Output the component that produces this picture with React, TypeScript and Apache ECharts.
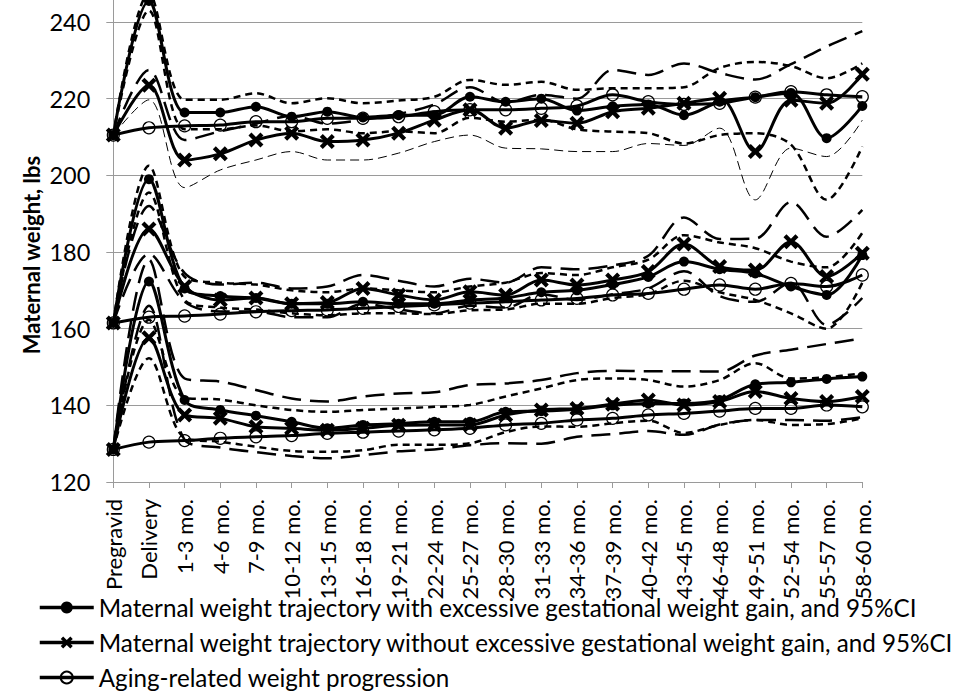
import React, { useEffect, useRef } from "react";
import * as echarts from "echarts";

const categories = [
  "Pregravid", "Delivery", "1-3 mo.", "4-6 mo.", "7-9 mo.", "10-12 mo.", "13-15 mo.", "16-18 mo.",
  "19-21 mo.", "22-24 mo.", "25-27 mo.", "28-30 mo.", "31-33 mo.", "34-36 mo.", "37-39 mo.",
  "40-42 mo.", "43-45 mo.", "46-48 mo.", "49-51 mo.", "52-54 mo.", "55-57 mo.", "58-60 mo.",
];

const yTicks = [120, 140, 160, 180, 200, 220, 240];
const yTop = 245.74;

const NAME_EXC = "Maternal weight trajectory with excessive gestational weight gain, and 95%CI";
const NAME_NOEXC = "Maternal weight trajectory without excessive gestational weight gain, and 95%CI";
const NAME_AGE = "Aging-related weight progression";

// Upper group
const upperExc = [210.5, 245.5, 216.4, 216.4, 217.9, 215.3, 216.6, 215.1, 215.7, 215.7, 220.5, 219.2, 220.0, 216.9, 218.0, 218.5, 215.7, 219.2, 220.4, 221.5, 209.7, 218.1];
const upperExcHi = [210.5, 247.5, 219.7, 219.7, 221.4, 218.8, 220.1, 218.8, 219.5, 220.5, 224.9, 223.6, 224.4, 222.3, 222.7, 222.7, 223.0, 228.0, 229.6, 228.5, 225.3, 229.2];
const upperExcLo = [210.5, 243.0, 212.0, 212.0, 213.0, 211.5, 212.0, 211.0, 211.5, 211.0, 215.0, 214.0, 214.5, 212.0, 211.4, 211.0, 208.3, 210.5, 211.0, 208.0, 193.6, 207.5];
const upperNoExc = [210.5, 223.5, 204.0, 205.6, 209.2, 211.0, 208.8, 209.2, 211.0, 214.4, 217.1, 212.3, 214.3, 213.6, 216.6, 217.5, 218.8, 220.1, 206.2, 219.6, 218.8, 226.4];
const upperNoExcHi = [210.5, 227.5, 209.2, 211.5, 213.5, 215.5, 213.5, 214.5, 216.0, 218.5, 223.0, 219.0, 221.0, 220.0, 227.5, 226.2, 229.2, 226.7, 225.0, 229.0, 233.6, 237.6];
const upperNoExcLo = [210.5, 219.7, 196.8, 201.4, 204.0, 206.2, 204.0, 204.0, 205.8, 208.8, 210.5, 207.1, 206.9, 206.2, 206.2, 208.3, 207.8, 212.3, 193.6, 207.1, 204.9, 214.4];
const upperAge = [210.5, 212.4, 212.9, 213.1, 214.0, 214.0, 214.9, 214.9, 215.3, 216.6, 217.1, 217.1, 217.5, 218.1, 221.0, 219.2, 218.5, 218.8, 220.4, 221.8, 221.0, 220.5];

// Middle group
const midExc = [161.5, 199.0, 170.5, 168.5, 168.0, 166.5, 166.5, 167.0, 166.5, 166.5, 167.5, 168.0, 169.5, 170.0, 171.5, 173.5, 177.5, 175.5, 174.4, 171.0, 168.8, 179.2];
const midExcHi = [161.5, 202.5, 173.5, 172.0, 171.5, 170.0, 169.5, 170.5, 170.0, 169.5, 171.0, 172.0, 174.5, 174.0, 176.0, 178.0, 184.4, 182.5, 181.0, 177.5, 176.0, 185.0];
const midExcLo = [161.5, 195.5, 167.5, 165.5, 165.0, 164.0, 163.5, 164.0, 164.0, 163.8, 164.8, 165.0, 166.5, 166.5, 168.0, 169.0, 172.5, 169.5, 167.5, 164.0, 160.0, 172.0];
const midNoExc = [161.5, 186.0, 171.0, 167.5, 168.0, 166.5, 166.8, 170.5, 168.8, 167.5, 169.6, 168.8, 172.7, 171.4, 172.7, 174.9, 182.1, 176.2, 175.3, 182.7, 173.6, 179.7];
const midNoExcHi = [161.5, 192.0, 174.5, 171.5, 172.0, 170.5, 171.0, 174.0, 172.5, 171.0, 173.0, 172.0, 176.0, 175.5, 176.5, 179.0, 189.0, 183.4, 183.5, 193.0, 184.0, 191.0];
const midNoExcLo = [161.5, 179.5, 167.0, 164.5, 164.5, 163.0, 163.0, 166.5, 165.0, 164.0, 166.0, 165.5, 169.0, 167.5, 169.0, 170.5, 175.0, 168.5, 167.0, 172.0, 161.0, 168.0];
const midAge = [161.5, 163.0, 163.3, 163.8, 164.4, 164.7, 164.9, 165.3, 165.8, 166.2, 166.7, 167.0, 167.5, 167.9, 168.8, 169.2, 170.3, 171.4, 170.3, 171.8, 171.0, 174.0];

// Lower group
const lowExc = [128.5, 172.3, 141.4, 138.8, 137.3, 135.7, 134.0, 134.9, 135.2, 135.7, 135.7, 138.3, 138.5, 139.0, 140.0, 140.5, 140.5, 141.4, 145.5, 146.0, 146.9, 147.5];
const lowExcHi = [128.5, 178.0, 147.0, 146.2, 144.0, 141.8, 141.0, 142.3, 143.1, 143.4, 145.3, 145.7, 146.6, 148.4, 149.0, 148.9, 148.9, 148.8, 153.0, 154.5, 156.0, 157.5];
const lowExcLo = [128.5, 166.0, 131.0, 129.0, 127.8, 126.8, 126.2, 127.0, 128.0, 128.5, 129.6, 130.1, 130.0, 131.8, 132.5, 133.3, 132.3, 135.0, 136.2, 136.2, 136.0, 136.9];
const lowNoExc = [128.5, 157.6, 137.5, 136.6, 134.4, 134.0, 133.5, 134.0, 134.8, 134.9, 134.9, 137.5, 138.8, 139.2, 140.3, 141.4, 140.1, 141.0, 143.6, 141.8, 141.0, 142.3];
const lowNoExcHi = [128.5, 162.3, 142.0, 141.5, 140.0, 138.8, 138.3, 138.8, 139.2, 139.6, 140.1, 142.3, 144.4, 146.6, 147.0, 146.6, 144.9, 146.6, 151.0, 147.0, 147.3, 148.4];
const lowNoExcLo = [128.5, 152.3, 131.5, 130.5, 129.2, 128.1, 127.9, 128.3, 129.7, 129.7, 130.1, 133.0, 134.5, 134.4, 135.3, 136.0, 132.8, 134.9, 136.2, 134.9, 135.1, 136.6];
const lowAge = [128.5, 130.4, 130.8, 131.4, 131.8, 132.1, 132.7, 133.0, 133.3, 133.6, 134.0, 134.9, 135.3, 136.2, 136.6, 137.5, 137.9, 138.5, 139.2, 139.2, 140.1, 139.6];

const FONT = "Lato, 'Liberation Sans', sans-serif";
const X_SYMBOL = "path://M0,2 L2,0 L5,3 L8,0 L10,2 L7,5 L10,8 L8,10 L5,7 L2,10 L0,8 L3,5 Z";
const LONG_DASH = [19, 9];
const SHORT_DASH = [7, 5];
const THIN_DASH = [9, 5];
const SMOOTH = 0.33;

function trajExc(data: number[]) {
  return {
    name: NAME_EXC, type: "line", data, smooth: SMOOTH, z: 5, showAllSymbol: true,
    symbol: "circle", symbolSize: 10,
    lineStyle: { color: "#000", width: 3 },
    itemStyle: { color: "#000" },
  };
}
function trajNoExc(data: number[]) {
  return {
    name: NAME_NOEXC, type: "line", data, smooth: SMOOTH, z: 5, showAllSymbol: true,
    symbol: X_SYMBOL, symbolSize: 15,
    lineStyle: { color: "#000", width: 3 },
    itemStyle: { color: "#000" },
  };
}
function trajAge(data: number[]) {
  return {
    name: NAME_AGE, type: "line", data, smooth: SMOOTH, z: 4, showAllSymbol: true,
    symbol: "circle", symbolSize: 12,
    lineStyle: { color: "#000", width: 3 },
    itemStyle: { color: "rgba(0,0,0,0)", borderColor: "#000", borderWidth: 1.2 },
  };
}
function ci(id: string, data: number[], dash: number[], width: number) {
  return {
    name: id, type: "line", data, smooth: SMOOTH, z: 2, symbol: "none",
    lineStyle: { color: "#000", width, type: dash },
  };
}

const legendLine = { width: 3.5, color: "#000" };

export default function App() {
  const ref = useRef<HTMLDivElement>(null);
  useEffect(() => {
    if (!ref.current) return;
    const chart = echarts.init(ref.current, null, { renderer: "svg" });
    const series: any[] = [
      trajExc(upperExc), trajNoExc(upperNoExc), trajAge(upperAge),
      ci("ci_u1", upperExcHi, SHORT_DASH, 2.5), ci("ci_u2", upperExcLo, SHORT_DASH, 2.5),
      ci("ci_u3", upperNoExcHi, LONG_DASH, 2.5), ci("ci_u4", upperNoExcLo, THIN_DASH, 1),
      trajExc(midExc), trajNoExc(midNoExc), trajAge(midAge),
      ci("ci_m1", midExcHi, SHORT_DASH, 2.5), ci("ci_m2", midExcLo, SHORT_DASH, 2.5),
      ci("ci_m3", midNoExcHi, LONG_DASH, 2.5), ci("ci_m4", midNoExcLo, LONG_DASH, 2.5),
      trajExc(lowExc), trajNoExc(lowNoExc), trajAge(lowAge),
      ci("ci_l1", lowExcHi, LONG_DASH, 2.5), ci("ci_l2", lowExcLo, LONG_DASH, 2.5),
      ci("ci_l3", lowNoExcHi, SHORT_DASH, 2.5), ci("ci_l4", lowNoExcLo, SHORT_DASH, 2.5),
    ];
    chart.setOption({
      animation: false,
      backgroundColor: "#fff",
      textStyle: { fontFamily: FONT },
      grid: { left: 113.3, right: 113.7, top: 0, bottom: 210, containLabel: false },
      xAxis: {
        type: "category",
        data: categories,
        boundaryGap: false,
        axisLine: { lineStyle: { color: "#9a9a9a", width: 1 } },
        axisTick: { show: true, length: 6, interval: 0, lineStyle: { color: "#9a9a9a" } },
        axisLabel: { interval: 0, rotate: 90, margin: 17, fontSize: 22, color: "#000", fontFamily: FONT },
        splitLine: { show: false },
      },
      yAxis: {
        type: "value",
        min: yTicks[0],
        max: yTop,
        interval: 20,
        axisLine: { show: true, lineStyle: { color: "#9a9a9a", width: 1 } },
        axisTick: { show: true, length: 7, lineStyle: { color: "#9a9a9a" } },
        axisLabel: {
          margin: 23, fontSize: 23.5, color: "#000", fontFamily: FONT, showMaxLabel: false,
          formatter: (v: number) => (yTicks.indexOf(v) >= 0 ? String(v) : ""),
        },
        splitLine: { show: true, showMaxLine: false, lineStyle: { color: "#9a9a9a", width: 1 } },
      },
      legend: {
        show: true,
        orient: "vertical",
        left: 38,
        top: 595,
        padding: 0,
        height: 97,
        itemWidth: 54,
        itemHeight: 15,
        itemGap: 10,
        data: [
          { name: NAME_EXC, lineStyle: legendLine },
          { name: NAME_NOEXC, lineStyle: legendLine },
          { name: NAME_AGE, lineStyle: legendLine },
        ],
        lineStyle: legendLine,
        textStyle: { fontSize: 24.2, color: "#000", fontFamily: FONT, lineHeight: 25 },
      },
      graphic: [
        {
          type: "text",
          x: 31,
          y: 255,
          rotation: Math.PI / 2,
          style: {
            text: "Maternal weight, lbs",
            fontSize: 22,
            fontWeight: "bold",
            fontFamily: FONT,
            fill: "#000",
            align: "center",
            verticalAlign: "middle",
            textAlign: "center",
            textVerticalAlign: "middle",
          },
        },
      ],
      series,
    });
    return () => chart.dispose();
  }, []);
  return (
    <div
      ref={ref}
      style={{ position: "fixed", left: 0, top: 0, width: 976, height: 692, background: "#fff" }}
    />
  );
}
